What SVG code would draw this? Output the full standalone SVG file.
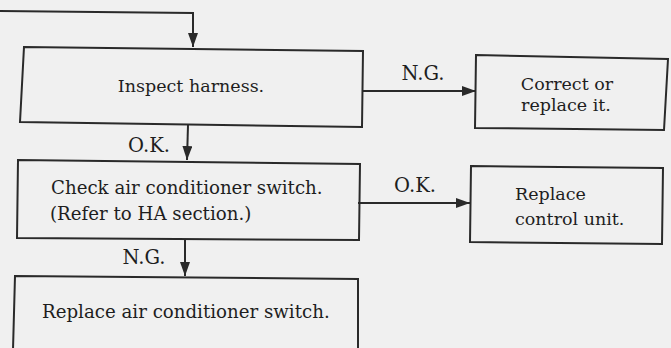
<svg xmlns="http://www.w3.org/2000/svg" width="671" height="348" viewBox="0 0 671 348">
<defs>
<marker id="arr" viewBox="0 0 14 10" refX="14" refY="5" markerWidth="14" markerHeight="10" markerUnits="userSpaceOnUse" orient="auto">
<path d="M0,0 L14,5 L0,10 Z" fill="#2a2a2a"/>
</marker>
</defs>
<style>
.box{fill:none;stroke:#2a2a2a;stroke-width:2}
.ln{fill:none;stroke:#2a2a2a;stroke-width:2}
text{font-family:"DejaVu Serif","Liberation Serif",serif;font-size:17.5px;fill:#1e1e1e}
.lb{font-size:19.5px}
.w{font-size:18.2px}
.m{text-anchor:middle}
</style>
<rect width="671" height="348" fill="#f0f0f0"/>
<g id="connectors">
<path class="ln" d="M0,11 L193,13 L193,47" marker-end="url(#arr)"/>
<path class="ln" d="M188,125 L187,160" marker-end="url(#arr)"/>
<path class="ln" d="M185,240 L185,276" marker-end="url(#arr)"/>
<path class="ln" d="M363,91 L476,91" marker-end="url(#arr)"/>
<path class="ln" d="M358,203 L470,203" marker-end="url(#arr)"/>
<text x="149" y="152" class="m lb">O.K.</text>
<text x="144" y="264" class="m lb">N.G.</text>
<text x="423" y="80" class="m lb">N.G.</text>
<text x="415" y="192" class="m lb">O.K.</text>
</g>
<g id="n1">
<path class="box" d="M24,47 L363,51 L362,127 L20,122 Z"/>
<text x="191" y="92" class="m">Inspect harness.</text>
</g>
<g id="n2">
<path class="box" d="M476,55 L668,59 L664,130 L475,128 Z"/>
<text x="567" y="90" class="m">Correct or</text>
<text x="566" y="111" class="m">replace it.</text>
</g>
<g id="n3">
<path class="box" d="M18,160 L360,164 L359,240 L17,238 Z"/>
<text x="51" y="194" class="w">Check air conditioner switch.</text>
<text x="50" y="220" class="w">(Refer to HA section.)</text>
</g>
<g id="n4">
<path class="box" d="M471,166 L663,168 L662,244 L470,242 Z"/>
<text x="515" y="200">Replace</text>
<text x="515" y="225">control unit.</text>
</g>
<g id="n5">
<path class="box" d="M15,276 L358,279 L358,350 L13,350 Z"/>
<text x="42" y="318" class="w">Replace air conditioner switch.</text>
</g>
</svg>
